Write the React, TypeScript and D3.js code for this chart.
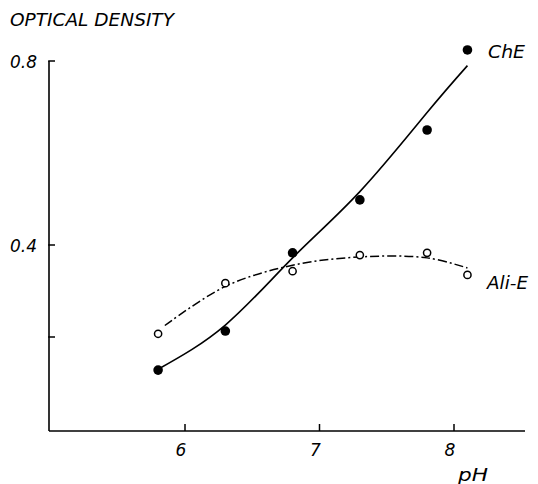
import React from "react";
import * as d3 from "d3";

// Measured samples
const phValues = [5.8, 6.3, 6.8, 7.3, 7.8, 8.1];
const cheValues = [0.128, 0.213, 0.383, 0.498, 0.65, 0.824];
const aliValues = [0.207, 0.317, 0.343, 0.378, 0.383, 0.335];

// Smoothed trend lines (hand-fitted knots)
const cheFitPh = [5.8, 6.3, 6.8, 7.3, 7.8, 8.1];
const cheFitOd = [0.13, 0.226, 0.372, 0.516, 0.688, 0.79];
const aliFitPh = [5.85, 6.3, 6.8, 7.3, 7.8, 8.1];
const aliFitOd = [0.225, 0.31, 0.356, 0.374, 0.372, 0.35];

const xTicks = [6, 7, 8];
const yTicks = [0.2, 0.4, 0.8];
const yTickLabels = ["", "0.4", "0.8"];

const W = 538;
const H = 484;
const font = "'DejaVu Sans', sans-serif";

export default function App() {
  const x = d3.scaleLinear().domain([6, 8]).range([185, 454]);
  const y = d3.scaleLinear().domain([0, 0.8]).range([429, 61]);
  const axisX0 = 49;
  const axisX1 = 525;
  const axisY = 431;
  const axisTop = 61;

  const cheLine = d3
    .line<[number, number]>()
    .x((d) => x(d[0]))
    .y((d) => y(d[1]))
    .curve(d3.curveNatural);
  const aliLine = d3
    .line<[number, number]>()
    .x((d) => x(d[0]))
    .y((d) => y(d[1]))
    .curve(d3.curveCatmullRom.alpha(0.5));

  const cheFit = cheLine(cheFitPh.map((p, i) => [p, cheFitOd[i]]) as [number, number][]);
  const aliFit = aliLine(aliFitPh.map((p, i) => [p, aliFitOd[i]]) as [number, number][]);

  return (
    <svg
      width={W}
      height={H}
      style={{ position: "absolute", left: 0, top: 0, background: "#fff" }}
    >
      {/* axes */}
      <line x1={axisX0} y1={axisTop} x2={axisX0} y2={axisY} stroke="#000" strokeWidth={1.6} />
      <line x1={axisX0} y1={axisY} x2={axisX1} y2={axisY} stroke="#000" strokeWidth={1.6} />
      {yTicks.map((t, i) => (
        <g key={"yt" + i}>
          <line x1={axisX0 - 0.8} x2={axisX0 + 6} y1={y(t)} y2={y(t)} stroke="#000" strokeWidth={1.5} />
          {yTickLabels[i] && (
            <text
              x={10}
              y={y(t) + 7}
              fontFamily={font}
              fontStyle="italic"
              fontSize={18}
              textLength={27}
              lengthAdjust="spacingAndGlyphs"
            >
              {yTickLabels[i]}
            </text>
          )}
        </g>
      ))}
      {xTicks.map((t) => (
        <g key={"xt" + t}>
          <line x1={x(t)} x2={x(t)} y1={axisY} y2={axisY - 7} stroke="#000" strokeWidth={1.5} />
          <text
            x={x(t) - 4}
            y={axisY + 25}
            textAnchor="middle"
            fontFamily={font}
            fontStyle="italic"
            fontSize={17}
          >
            {t}
          </text>
        </g>
      ))}
      <text
        x={458}
        y={481}
        fontFamily={font}
        fontStyle="italic"
        fontSize={18}
        textLength={30}
        lengthAdjust="spacingAndGlyphs"
      >
        pH
      </text>
      <text
        x={10}
        y={26}
        fontFamily={font}
        fontStyle="italic"
        fontSize={17}
        textLength={164}
        lengthAdjust="spacingAndGlyphs"
      >
        OPTICAL DENSITY
      </text>

      {/* trend lines */}
      <path d={cheFit ?? ""} fill="none" stroke="#000" strokeWidth={1.6} />
      <path
        d={aliFit ?? ""}
        fill="none"
        stroke="#000"
        strokeWidth={1.5}
        strokeDasharray="9 3 2 3"
      />

      {/* samples */}
      {phValues.map((p, i) => (
        <circle key={"c" + i} cx={x(p)} cy={y(cheValues[i])} r={4.8} fill="#000" />
      ))}
      {phValues.map((p, i) => (
        <circle
          key={"a" + i}
          cx={x(p)}
          cy={y(aliValues[i])}
          r={3.6}
          fill="#fff"
          stroke="#000"
          strokeWidth={1.5}
        />
      ))}

      <text
        x={488}
        y={58}
        fontFamily={font}
        fontStyle="italic"
        fontSize={18}
        textLength={37}
        lengthAdjust="spacingAndGlyphs"
      >
        ChE
      </text>
      <text
        x={487}
        y={289}
        fontFamily={font}
        fontStyle="italic"
        fontSize={17}
        textLength={41}
        lengthAdjust="spacingAndGlyphs"
      >
        Ali-E
      </text>
    </svg>
  );
}
